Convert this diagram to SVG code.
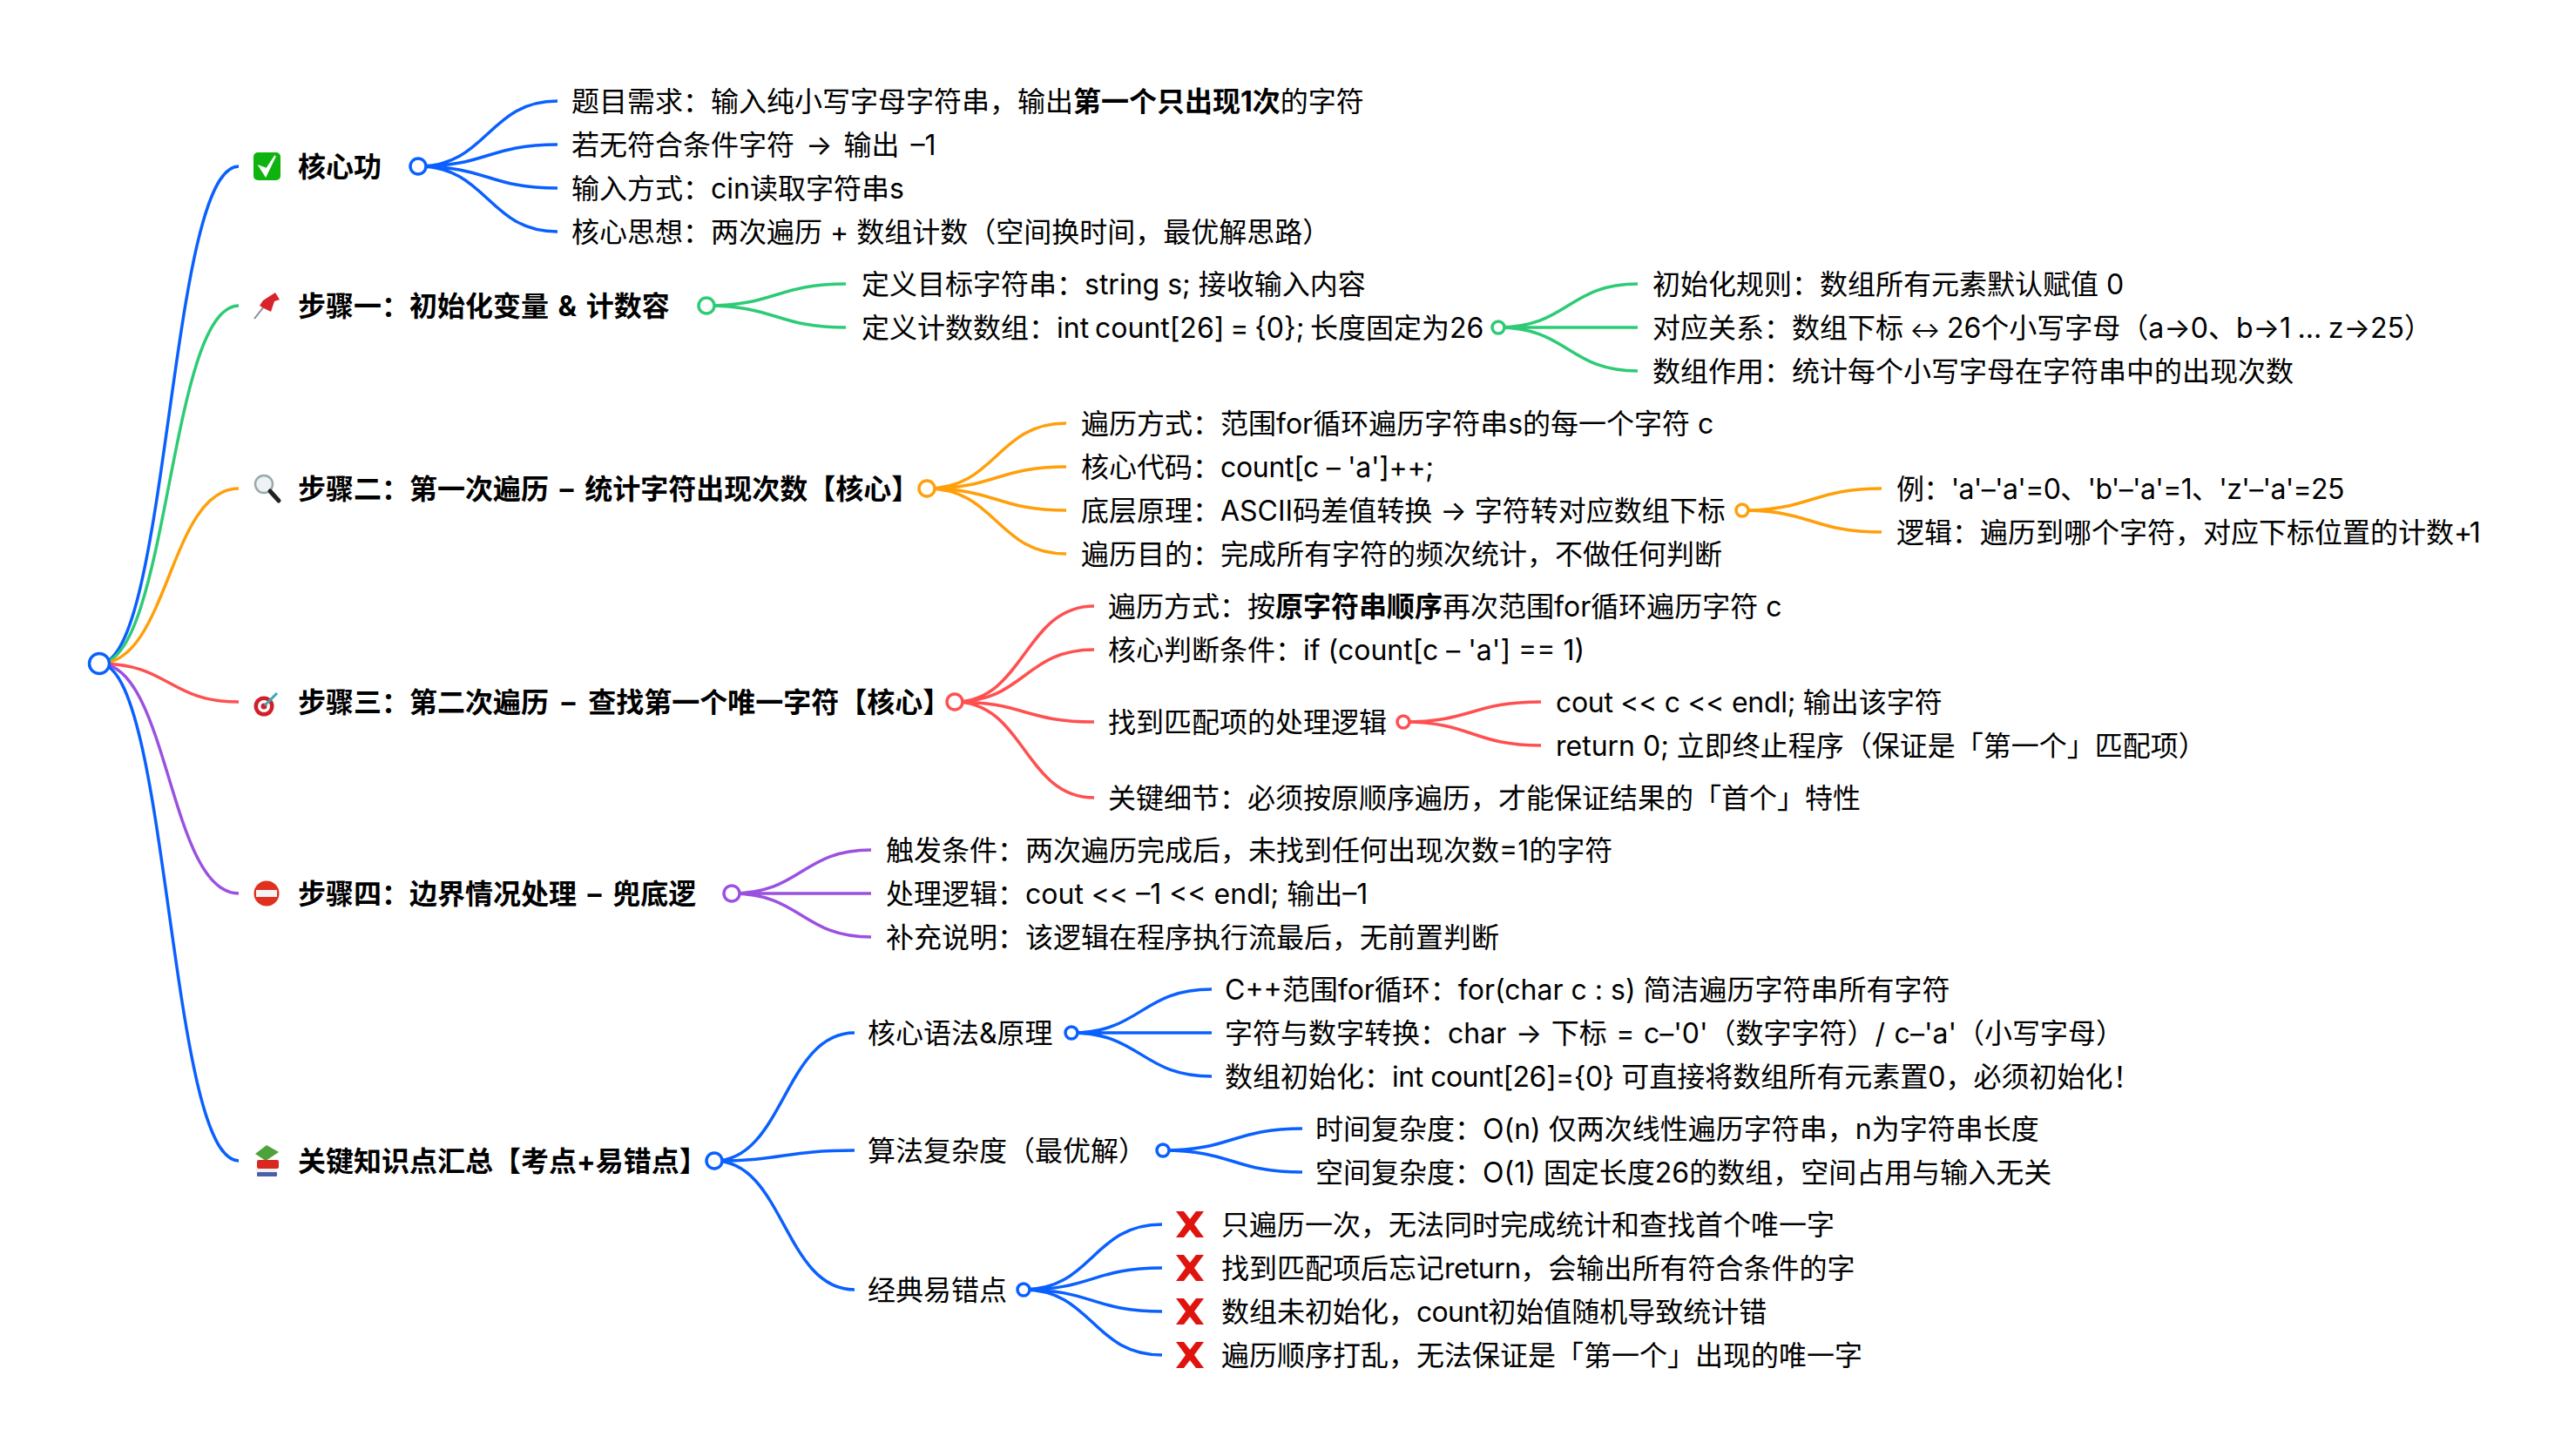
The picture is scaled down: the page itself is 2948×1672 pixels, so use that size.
<svg xmlns="http://www.w3.org/2000/svg" width="2948" height="1672" viewBox="0 0 2948 1672">
<style>
text{font-family:"Inter","Noto Sans CJK SC",sans-serif;font-size:32px;fill:#000;white-space:pre}
.h,.b{font-weight:700}
.ws{word-spacing:5px}
#connectors path{fill:none;stroke-width:3.5}
.blue{stroke:#0a60ff}.green{stroke:#2dcb75}.orange{stroke:#ff9f0a}.red{stroke:#ff5050}.purple{stroke:#9b51e0}
.dot{fill:#fff;stroke-width:3.5}
</style>
<defs>
<g id="x"><path d="M-16 -15H-7L0 -6L7 -15H16L5 0L16 15H7L0 6L-7 15H-16L-5 0Z" fill="#e0140f"/></g>
</defs>
<rect width="2948" height="1672" fill="#fff"/>
<g id="connectors">
<path class="blue" d="M114 762C194 762 194 191 274 191"/>
<path class="green" d="M114 762C194 762 194 351 274 351"/>
<path class="orange" d="M114 762C194 762 194 561 274 561"/>
<path class="red" d="M114 762C194 762 194 806 274 806"/>
<path class="purple" d="M114 762C194 762 194 1026 274 1026"/>
<path class="blue" d="M114 762C194 762 194 1333 274 1333"/>
<path class="blue" d="M480 191C560 191 560 116 640 116M480 191C560 191 560 166 640 166M480 191C560 191 560 216 640 216M480 191C560 191 560 266 640 266"/>
<path class="green" d="M811 351C891 351 891 326 971 326M811 351C891 351 891 376 971 376"/>
<path class="green" d="M1720 376C1800 376 1800 326 1880 326M1720 376C1800 376 1800 376 1880 376M1720 376C1800 376 1800 426 1880 426"/>
<path class="orange" d="M1064 561C1144 561 1144 486 1224 486M1064 561C1144 561 1144 536 1224 536M1064 561C1144 561 1144 586 1224 586M1064 561C1144 561 1144 636 1224 636"/>
<path class="orange" d="M2000 586C2080 586 2080 561 2160 561M2000 586C2080 586 2080 611 2160 611"/>
<path class="red" d="M1096 806C1176 806 1176 696 1256 696M1096 806C1176 806 1176 746 1256 746M1096 806C1176 806 1176 829 1256 829M1096 806C1176 806 1176 916 1256 916"/>
<path class="red" d="M1611 829C1690 829 1690 806 1769 806M1611 829C1690 829 1690 856 1769 856"/>
<path class="purple" d="M840 1026C920 1026 920 976 1000 976M840 1026C920 1026 920 1026 1000 1026M840 1026C920 1026 920 1076 1000 1076"/>
<path class="blue" d="M820 1333C900 1333 900 1186 981 1186M820 1333C900 1333 900 1321 981 1321M820 1333C900 1333 900 1481 981 1481"/>
<path class="blue" d="M1230 1186C1310 1186 1310 1136 1391 1136M1230 1186C1310 1186 1310 1186 1391 1186M1230 1186C1310 1186 1310 1236 1391 1236"/>
<path class="blue" d="M1335 1321C1415 1321 1415 1296 1495 1296M1335 1321C1415 1321 1415 1346 1495 1346"/>
<path class="blue" d="M1175 1481C1254 1481 1254 1406 1334 1406M1175 1481C1254 1481 1254 1456 1334 1456M1175 1481C1254 1481 1254 1506 1334 1506M1175 1481C1254 1481 1254 1556 1334 1556"/>
</g>
<g id="root"><circle class="dot blue" cx="114" cy="762" r="11.5"/></g>
<g id="n1">
<rect x="291" y="175" width="31" height="32" rx="5" fill="#0fb30f"/>
<path d="M298 191L305 202L316 179L306 194Z" fill="#fff" stroke="#fff" stroke-width="2"/>
<text class="h" x="342" y="203">核心功</text><circle class="dot blue" cx="480" cy="191" r="9"/>
<text x="656" y="128">题目需求：输入纯小写字母字符串，输出<tspan class="b">第一个只出现1次</tspan>的字符</text>
<text x="656" y="178" style="word-spacing:4px">若无符合条件字符 → 输出 –1</text>
<text x="656" y="228">输入方式：cin读取字符串s</text>
<text x="656" y="278">核心思想：两次遍历 + 数组计数（空间换时间，最优解思路）</text>
</g>
<g id="n2">
<path d="M292 366L303 352" stroke="#889" stroke-width="2"/>
<path d="M302 345L316 336L321 344L315 346L311 358L303 354L298 351Z" fill="#d8232a"/>
<text class="h" x="342" y="363" style="word-spacing:3px">步骤一：初始化变量 &amp; 计数容</text><circle class="dot green" cx="811" cy="351" r="9"/>
<text x="989" y="338">定义目标字符串：string s; 接收输入内容</text>
<text x="989" y="388" style="word-spacing:-2.2px">定义计数数组：int count[26] = {0}; 长度固定为26</text><circle class="dot green" cx="1720" cy="376" r="7"/>
<text x="1897" y="338">初始化规则：数组所有元素默认赋值 0</text>
<text x="1897" y="388" style="word-spacing:-1.5px">对应关系：数组下标 <tspan font-size="26">↔</tspan> 26个小写字母（a→0、b→1 ... z→25）</text>
<text x="1897" y="438">数组作用：统计每个小写字母在字符串中的出现次数</text>
</g>
<g id="n3">
<circle cx="303" cy="556" r="10" fill="#eef2f5" stroke="#9aa" stroke-width="2.5"/>
<path d="M310 564L320 575" stroke="#222" stroke-width="5" stroke-linecap="round"/>
<text class="h ws" x="342" y="573">步骤二：第一次遍历 – 统计字符出现次数【核心】</text><circle class="dot orange" cx="1064" cy="561" r="9"/>
<text x="1241" y="498">遍历方式：范围for循环遍历字符串s的每一个字符 c</text>
<text x="1241" y="548">核心代码：<tspan style="letter-spacing:-.33px">count[c – 'a']++;</tspan></text>
<text x="1241" y="598">底层原理：ASCII码差值转换 → 字符转对应数组下标</text><circle class="dot orange" cx="2000" cy="586" r="7"/>
<text x="1241" y="648">遍历目的：完成所有字符的频次统计，不做任何判断</text>
<text x="2177" y="573" style="letter-spacing:-.68px">例：'a'–'a'=0、'b'–'a'=1、'z'–'a'=25</text>
<text x="2177" y="623">逻辑：遍历到哪个字符，对应下标位置的计数<tspan style="letter-spacing:-3.5px">+</tspan>1</text>
</g>
<g id="n4">
<circle cx="303" cy="811" r="11.5" fill="#d0202a"/><circle cx="303" cy="811" r="7" fill="#fff"/><circle cx="303" cy="811" r="3.5" fill="#d0202a"/>
<path d="M304 810L318 796" stroke="#3aa7b5" stroke-width="3"/>
<text class="h" x="342" y="818" style="word-spacing:7px">步骤三：第二次遍历 – 查找第一个唯一字符【核心】</text><circle class="dot red" cx="1096" cy="806" r="9"/>
<text x="1272" y="708">遍历方式：按<tspan class="b">原字符串顺序</tspan>再次范围for循环遍历字符 c</text>
<text x="1272" y="758">核心判断条件：if (count[c – 'a'] == 1)</text>
<text x="1272" y="841">找到匹配项的处理逻辑</text><circle class="dot red" cx="1611" cy="829" r="7"/>
<text x="1272" y="928">关键细节：必须按原顺序遍历，才能保证结果的「首个」特性</text>
<text x="1786" y="818"><tspan style="letter-spacing:-.3px">cout &lt;&lt; c &lt;&lt; endl; </tspan>输出该字符</text>
<text x="1786" y="868">return 0; 立即终止程序（保证是「第一个」匹配项）</text>
</g>
<g id="n5">
<circle cx="306" cy="1026" r="14.5" fill="#e0301e"/><rect x="294" y="1022" width="24" height="8" fill="#f4f4f4"/>
<text class="h ws" x="342" y="1038">步骤四：边界情况处理 – 兜底逻</text><circle class="dot purple" cx="840" cy="1026" r="9"/>
<text x="1017" y="988">触发条件：两次遍历完成后，未找到任何出现次数=1的字符</text>
<text x="1017" y="1038">处理逻辑：cout &lt;&lt; –1 &lt;&lt; endl; 输出–1</text>
<text x="1017" y="1088">补充说明：该逻辑在程序执行流最后，无前置判断</text>
</g>
<g id="n6">
<path d="M293 1325L306 1315L320 1323L305 1333Z" fill="#4da33a"/>
<rect x="295" y="1332" width="25" height="10" rx="2" fill="#d8281f"/>
<rect x="294" y="1342" width="24" height="4" fill="#f0f0f0"/><rect x="295" y="1346" width="23" height="5" rx="1" fill="#4a5fa8"/>
<text class="h" x="342" y="1345">关键知识点汇总【考点+易错点】</text><circle class="dot blue" cx="820" cy="1333" r="9"/>
<text x="996" y="1198">核心语法&amp;原理</text><circle class="dot blue" cx="1230" cy="1186" r="7"/>
<text x="996" y="1333">算法复杂度（最优解）</text><circle class="dot blue" cx="1335" cy="1321" r="7"/>
<text x="996" y="1493">经典易错点</text><circle class="dot blue" cx="1175" cy="1481" r="7"/>
<text x="1406" y="1148">C++范围for循环：for(char c : s) 简洁遍历字符串所有字符</text>
<text x="1406" y="1198" style="word-spacing:1.5px">字符与数字转换：char → 下标 = c–'0'（数字字符）/ c–'a'（小写字母）</text>
<text x="1406" y="1248">数组初始化：<tspan style="letter-spacing:-.5px">int count[26]={0} </tspan>可直接将数组所有元素置0，必须初始化！</text>
<text x="1510" y="1308">时间复杂度：O(n) 仅两次线性遍历字符串，n为字符串长度</text>
<text x="1510" y="1358">空间复杂度：O(1) 固定长度26的数组，空间占用与输入无关</text>
<use href="#x" x="1366" y="1406"/><text x="1402" y="1418">只遍历一次，无法同时完成统计和查找首个唯一字</text>
<use href="#x" x="1366" y="1456"/><text x="1402" y="1468">找到匹配项后忘记<tspan style="letter-spacing:-.6px">return</tspan>，会输出所有符合条件的字</text>
<use href="#x" x="1366" y="1506"/><text x="1402" y="1518">数组未初始化，<tspan style="letter-spacing:-.7px">count</tspan>初始值随机导致统计错</text>
<use href="#x" x="1366" y="1556"/><text x="1402" y="1568">遍历顺序打乱，无法保证是「第一个」出现的唯一字</text>
</g>
</svg>
